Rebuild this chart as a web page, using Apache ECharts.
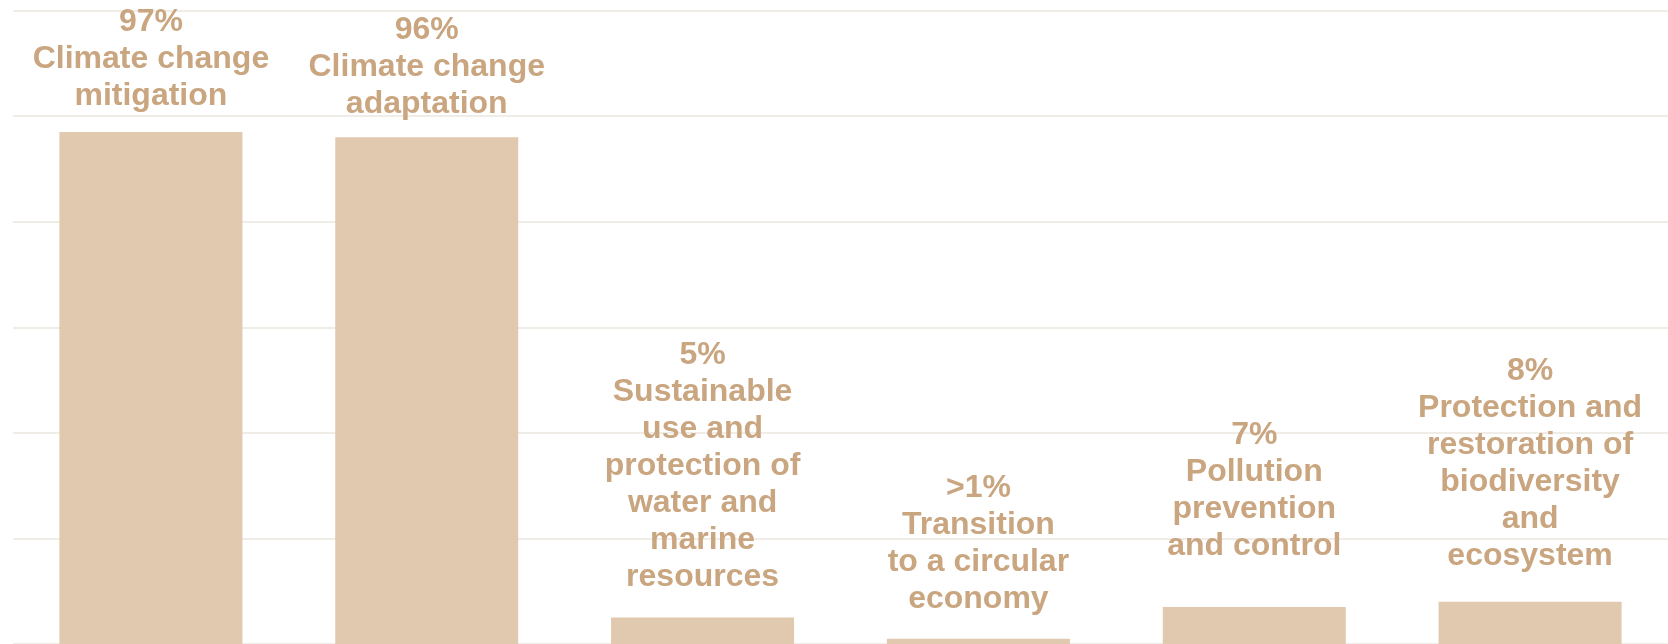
<!DOCTYPE html>
<html>
<head>
<meta charset="utf-8">
<title>Share by environmental objective</title>
<script src="https://cdn.jsdelivr.net/npm/echarts@6/dist/echarts.min.js"></script>
<style>
  html, body { margin: 0; padding: 0; background: #ffffff; }
  #chart { width: 1668px; height: 644px; }
</style>
</head>
<body>
<div id="chart"></div>
<script>
// Environmental objectives (category names, already broken into display lines)
const categories = [
  'Climate change\nmitigation',
  'Climate change\nadaptation',
  'Sustainable\nuse and\nprotection of\nwater and\nmarine\nresources',
  'Transition\nto a circular\neconomy',
  'Pollution\nprevention\nand control',
  'Protection and\nrestoration of\nbiodiversity\nand\necosystem'
];

// Share (%) for each objective
const shares = [97, 96, 5, 1, 7, 8];

// Value text printed above each bar
const shareLabels = ['97%', '96%', '5%', '>1%', '7%', '8%'];

// Value axis ticks (gridlines every 20%)
const axisMin = 0;
const axisMax = 120;
const axisStep = 20;

// Gap between each bar and its label block
const labelGaps = [17, 15, 22, 21, 42, 27];

const BAR = '#e0c9ae';
const TEXT = '#c9a580';

const chart = echarts.init(document.getElementById('chart'), null, { renderer: 'canvas' });

const seriesData = shares.map((v, i) => ({
  value: v,
  label: { distance: labelGaps[i] }
}));

chart.setOption({
  animation: false,
  backgroundColor: '#ffffff',
  grid: { left: 13, top: 10.5, width: 1663, height: 635 },
  xAxis: {
    type: 'category',
    data: categories,
    axisLine: { show: false },
    axisTick: { show: false },
    axisLabel: { show: false }
  },
  yAxis: {
    type: 'value',
    min: axisMin,
    max: axisMax,
    interval: axisStep,
    axisLine: { show: false },
    axisTick: { show: false },
    axisLabel: { show: false },
    splitLine: { lineStyle: { color: '#f0ece6', width: 2 } }
  },
  series: [{
    type: 'bar',
    data: seriesData,
    barWidth: 183,
    itemStyle: { color: BAR },
    label: {
      show: true,
      position: 'top',
      align: 'center',
      color: TEXT,
      fontFamily: 'Liberation Sans, Arial, sans-serif',
      fontWeight: 'bold',
      fontSize: 32,
      lineHeight: 37,
      formatter: p => shareLabels[p.dataIndex] + '\n' + categories[p.dataIndex]
    }
  }]
});
</script>
</body>
</html>
